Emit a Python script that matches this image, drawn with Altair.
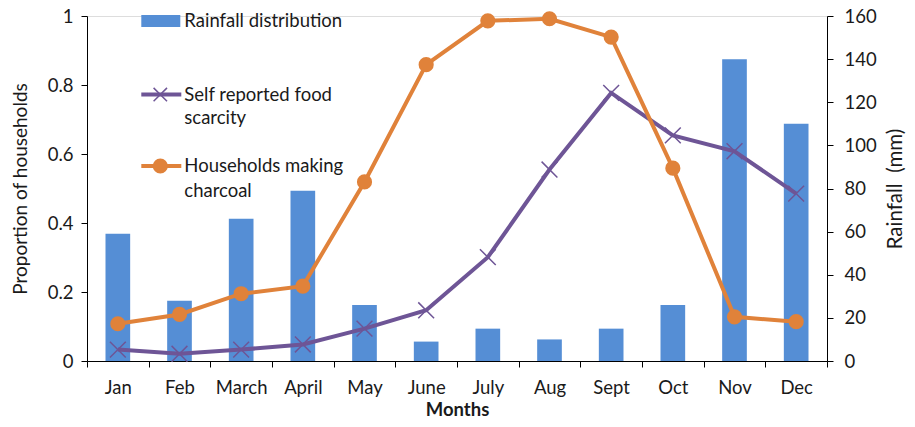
import altair as alt
import pandas as pd

months = ["Jan", "Feb", "March", "April", "May", "June", "July", "Aug", "Sept", "Oct", "Nov", "Dec"]
rainfall_mm = [59, 28, 66, 79, 26, 9, 15, 10, 15, 26, 140, 110]
food_scarcity = [0.033, 0.021, 0.033, 0.048, 0.094, 0.147, 0.301, 0.555, 0.777, 0.654, 0.608, 0.485]
charcoal = [0.108, 0.135, 0.195, 0.217, 0.519, 0.859, 0.986, 0.992, 0.939, 0.559, 0.128, 0.114]

left_ticks = [0, 0.2, 0.4, 0.6, 0.8, 1]
right_ticks = [0, 20, 40, 60, 80, 100, 120, 140, 160]

BLUE = "#558ED5"
ORANGE = "#E0823A"
PURPLE = "#6E5596"
FONT = "Lato"
TXT = "#1a1a1a"
FS = 18.5

df = pd.DataFrame({"month": months, "rain": rainfall_mm, "food": food_scarcity, "charcoal": charcoal})

xenc = alt.X(
    "month:N", sort=months,
    scale=alt.Scale(paddingInner=0, paddingOuter=0),
    axis=alt.Axis(title="Months", tickBand="extent", labelAngle=0, labelFontSize=FS,
                  labelPadding=11, tickSize=6, titleFontSize=18.5, titleFontWeight="bold",
                  titlePadding=4, domainColor="#000", tickColor="#000", labelColor=TXT,
                  titleColor=TXT),
)

bars = alt.Chart(df).mark_bar(color=BLUE, width=alt.RelativeBandSize(0.4)).encode(
    x=xenc,
    y=alt.Y("rain:Q", scale=alt.Scale(domain=[0, 160], nice=False),
            axis=alt.Axis(orient="right", title="Rainfall \u00a0(mm)", values=right_ticks,
                          grid=False, tickSize=6, labelPadding=11, labelFontSize=FS,
                          titleFontSize=20.5, titleFontWeight="normal", titleAngle=270,
                          titleBaseline="top", titlePadding=9, domainColor="#000",
                          tickColor="#000", labelColor=TXT, titleColor=TXT)),
)

left_axis = alt.Axis(title="Proportion of households", values=left_ticks, format="~g",
                     grid=False, tickSize=6, labelPadding=8, labelFontSize=FS,
                     titleFontSize=19, titleFontWeight="normal", titlePadding=17,
                     domainColor="#000", tickColor="#000", labelColor=TXT,
                     titleColor=TXT)
yscale = alt.Scale(domain=[0, 1], nice=False)
yleft = alt.Y("food:Q", scale=yscale, axis=left_axis)
y2 = alt.Y("charcoal:Q", scale=yscale, axis=left_axis)

XPATH = "M-1,-1L1,1M-1,1L1,-1"

food_line = alt.Chart(df).mark_line(color=PURPLE, strokeWidth=4).encode(x=xenc, y=yleft)
food_pts = alt.Chart(df).mark_point(shape=XPATH, size=250, filled=False, color=PURPLE,
                                    strokeWidth=1.5, opacity=1).encode(x=xenc, y=yleft)
char_line = alt.Chart(df).mark_line(color=ORANGE, strokeWidth=4).encode(x=xenc, y=y2)
char_pts = alt.Chart(df).mark_circle(color=ORANGE, size=230, opacity=1).encode(x=xenc, y=y2)

lines = alt.layer(food_line, food_pts, char_line, char_pts)

# legend
one = pd.DataFrame({"k": [0]})
leg_labels = ["Rainfall distribution", "Self reported food", "scarcity", "Households making", "charcoal"]
leg_y = [5.3, 78.6, 102, 150, 175.3]
leg_layers = [
    alt.Chart(one).mark_rect(color=BLUE).encode(x=alt.value(54.3), x2=alt.value(93.3),
                                                 y=alt.value(-1), y2=alt.value(11)),
    alt.Chart(one).mark_rule(color=PURPLE, strokeWidth=4).encode(x=alt.value(54.3), x2=alt.value(94.3),
                                                                   y=alt.value(78.6)),
    alt.Chart(one).mark_point(shape=XPATH, size=180, filled=False, color=PURPLE, strokeWidth=1.5,
                              opacity=1).encode(x=alt.value(73.3), y=alt.value(78.6)),
    alt.Chart(one).mark_rule(color=ORANGE, strokeWidth=4).encode(x=alt.value(54.3), x2=alt.value(94.3),
                                                                   y=alt.value(150)),
    alt.Chart(one).mark_circle(color=ORANGE, size=230, opacity=1).encode(x=alt.value(73.3),
                                                                          y=alt.value(150)),
]
for lab, yy in zip(leg_labels, leg_y):
    leg_layers.append(
        alt.Chart(pd.DataFrame({"t": [lab]})).mark_text(
            align="left", baseline="middle", fontSize=FS, font=FONT, color=TXT
        ).encode(x=alt.value(97.3), y=alt.value(yy), text="t:N")
    )

chart = alt.layer(bars, lines, *leg_layers).resolve_scale(y="independent").properties(
    width=740, height=345,
    autosize=alt.AutoSizeParams(type="none"),
    padding={"left": 79, "top": 8, "right": 80, "bottom": 58},
    background="white",
).configure_view(stroke=None).configure(font=FONT)

chart.save("out.html", embed_options={"renderer": "svg", "actions": False})
